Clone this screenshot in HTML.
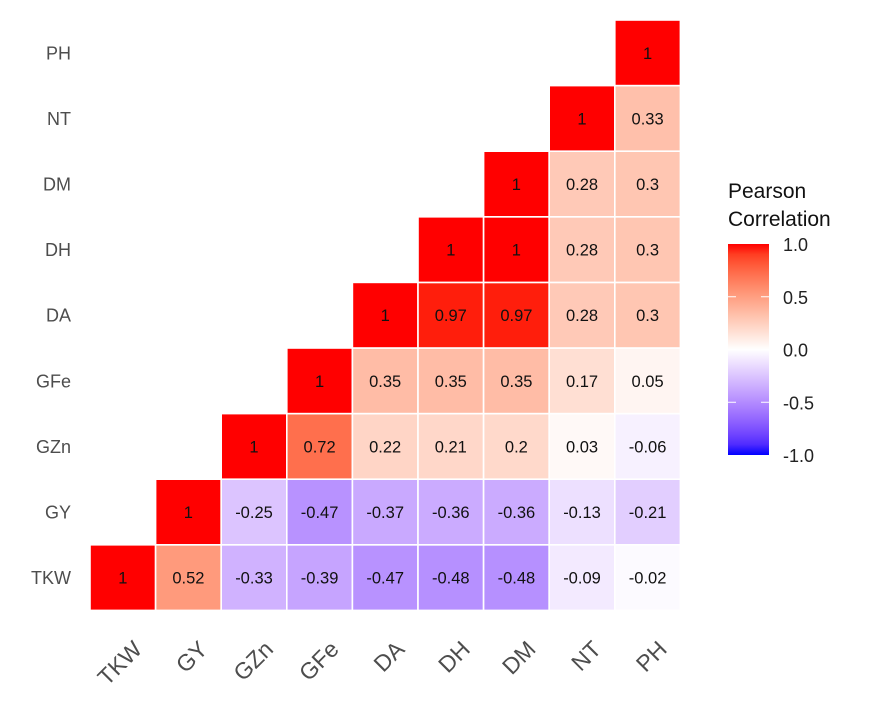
<!DOCTYPE html>
<html><head><meta charset="utf-8"><style>
html,body{margin:0;padding:0;background:#fff;}
svg{display:block;font-family:"Liberation Sans",Arial,sans-serif;}
</style></head><body>
<svg id="chart" width="886" height="709" viewBox="0 0 886 709">
<defs>
<linearGradient id="lg" x1="0" y1="1" x2="0" y2="0"></linearGradient>
</defs>
<g id="cells"></g>
<g id="ylabels"></g>
<g id="xlabels"></g>
<g id="legend">
<text x="728" y="198" font-size="21" fill="#111">Pearson</text>
<text x="728" y="226" font-size="21" fill="#111">Correlation</text>
<rect x="728" y="244" width="41" height="211" fill="url(#lg)"/>
</g>
</svg>
<script>
const variables = ["TKW","GY","GZn","GFe","DA","DH","DM","NT","PH"];
const rowTKW = [1,0.52,-0.33,-0.39,-0.47,-0.48,-0.48,-0.09,-0.02];
const rowGY  = [1,-0.25,-0.47,-0.37,-0.36,-0.36,-0.13,-0.21];
const rowGZn = [1,0.72,0.22,0.21,0.2,0.03,-0.06];
const rowGFe = [1,0.35,0.35,0.35,0.17,0.05];
const rowDA  = [1,0.97,0.97,0.28,0.3];
const rowDH  = [1,1,0.28,0.3];
const rowDM  = [1,0.28,0.3];
const rowNT  = [1,0.33];
const rowPH  = [1];
const rows = [rowTKW,rowGY,rowGZn,rowGFe,rowDA,rowDH,rowDM,rowNT,rowPH];
const legendTicks = [1.0,0.5,0.0,-0.5,-1.0];

const NS="http://www.w3.org/2000/svg";
const X0=90, Y0=20, P=65.6, N=variables.length;
const xPos = c => X0 + c*P;
const yPos = r => Y0 + (N-1-r)*P;
const lgY = v => 455 - (v+1)/2*211;

function toLin(c){c/=255;return c<=0.04045?c/12.92:Math.pow((c+0.055)/1.055,2.4);}
function fromLin(c){c=c<=0.0031308?12.92*c:1.055*Math.pow(c,1/2.4)-0.055;return Math.max(0,Math.min(255,Math.round(c*255)));}
function rgb2lab(r,g,b){r=toLin(r);g=toLin(g);b=toLin(b);
 let x=(r*0.4124+g*0.3576+b*0.1805)/0.95047,y=r*0.2126+g*0.7152+b*0.0722,z=(r*0.0193+g*0.1192+b*0.9505)/1.08883;
 const f=t=>t>0.008856?Math.cbrt(t):7.787*t+16/116;
 return [116*f(y)-16,500*(f(x)-f(y)),200*(f(y)-f(z))];}
function lab2rgb(L,a,bb){let fy=(L+16)/116,fx=fy+a/500,fz=fy-bb/200;
 const g=t=>t*t*t>0.008856?t*t*t:(t-16/116)/7.787;
 let x=g(fx)*0.95047,y=g(fy),z=g(fz)*1.08883;
 let r=x*3.2406-y*1.5372-z*0.4986,gg=-x*0.9689+y*1.8758+z*0.0415,b=x*0.0557-y*0.2040+z*1.0570;
 return `rgb(${fromLin(r)},${fromLin(gg)},${fromLin(b)})`;}
const LR=rgb2lab(255,0,0),LW=rgb2lab(255,255,255),LB=rgb2lab(0,0,255);
function color(v){const e=v>=0?LR:LB,t=Math.abs(v);return lab2rgb(LW[0]+(e[0]-LW[0])*t,LW[1]+(e[1]-LW[1])*t,LW[2]+(e[2]-LW[2])*t);}

const cells=document.getElementById('cells');
rows.forEach((vals,r)=>{
 vals.forEach((v,k)=>{
  const c=r+k;
  const rect=document.createElementNS(NS,'rect');
  rect.setAttribute('x',xPos(c));rect.setAttribute('y',yPos(r));
  rect.setAttribute('width',P);rect.setAttribute('height',P);
  rect.setAttribute('fill',color(v));rect.setAttribute('stroke','#fff');rect.setAttribute('stroke-width','1.6');
  
  
  cells.appendChild(rect);
  const t=document.createElementNS(NS,'text');
  t.setAttribute('x',xPos(c)+P/2);t.setAttribute('y',yPos(r)+P/2+6);
  t.setAttribute('text-anchor','middle');t.setAttribute('font-size','16.5');t.setAttribute('fill','#111');
  t.textContent=String(v);
  
  
  cells.appendChild(t);
 });
});
const yl=document.getElementById('ylabels'),xl=document.getElementById('xlabels');
variables.forEach((name,i)=>{
 const t=document.createElementNS(NS,'text');
 t.setAttribute('x',71);t.setAttribute('y',yPos(i)+P/2+6.5);t.setAttribute('text-anchor','end');
 t.setAttribute('font-size','18');t.setAttribute('fill','#4d4d4d');t.textContent=name;
 
 
 yl.appendChild(t);
 const u=document.createElementNS(NS,'text');
 const cx=xPos(i)+P/2+10, cy=640;
 u.setAttribute('transform',`translate(${cx},${cy}) rotate(-45)`);
 u.setAttribute('text-anchor','end');u.setAttribute('font-size','23');u.setAttribute('fill','#4d4d4d');
 u.setAttribute('dy','15');u.textContent=name;
 
 
 xl.appendChild(u);
});
const lg=document.getElementById('lg');
for(let i=0;i<=20;i++){const v=-1+i/10;const s=document.createElementNS(NS,'stop');
 s.setAttribute('offset',(i/20));s.setAttribute('stop-color',color(v));lg.appendChild(s);}
const leg=document.getElementById('legend');
legendTicks.forEach(v=>{
 const y=lgY(v);
 if(Math.abs(v)<1){[728,761].forEach(x=>{const l=document.createElementNS(NS,'line');
  l.setAttribute('x1',x);l.setAttribute('x2',x+8);l.setAttribute('y1',y);l.setAttribute('y2',y);
  l.setAttribute('stroke','#fff');l.setAttribute('stroke-width','1');
  
  
  leg.appendChild(l);});}
 const t=document.createElementNS(NS,'text');
 t.setAttribute('x',783);t.setAttribute('y',y+7);t.setAttribute('font-size','18');t.setAttribute('fill','#222');
 t.textContent=v.toFixed(1);
 
 
 leg.appendChild(t);
});
</script>
</body></html>
